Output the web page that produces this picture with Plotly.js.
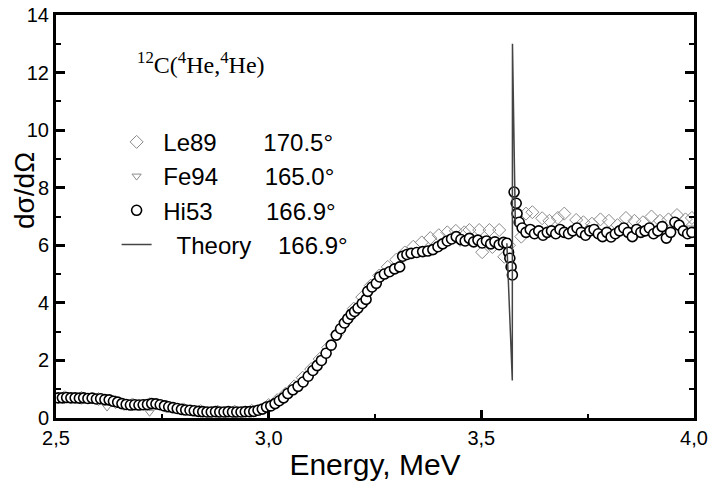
<!DOCTYPE html>
<html>
<head>
<meta charset="utf-8">
<script src="https://cdn.plot.ly/plotly-3.0.1.min.js"></script>
<style>html,body{margin:0;padding:0;background:#fff;}#chart{width:711px;height:489px;}</style>
</head>
<body>
<div id="chart"></div>
<script>
// Hi53 (open circles)
const hi53E = [2.505,2.515,2.525,2.535,2.545,2.555,2.565,2.575,2.585,2.595,2.605,2.615,2.625,2.635,2.645,2.655,2.665,2.675,2.685,2.695,2.705,2.715,2.725,2.735,2.745,2.755,2.765,2.775,2.785,2.795,2.805,2.815,2.825,2.835,2.845,2.855,2.865,2.875,2.885,2.895,2.905,2.915,2.925,2.935,2.945,2.955,2.965,2.975,2.985,2.995,
  3.005,3.015,3.025,3.035,3.045,3.057,3.069,3.081,3.093,3.104,3.114,3.124,3.135,3.147,3.159,3.169,3.178,3.186,3.194,3.202,3.210,3.220,3.229,3.233,3.243,3.253,3.261,3.272,3.284,3.296,3.308,3.315,3.325,3.335,3.348,3.362,3.374,3.386,3.398,3.409,3.420,3.430,3.441,3.452,3.462,3.472,3.482,3.492,3.502,3.512,3.522,3.532,3.542,3.552,3.560,3.564,3.567,3.570,3.573,
  3.577,3.582,3.584,3.589,3.596,3.605,3.615,3.625,3.635,3.645,3.655,3.665,3.675,3.685,3.695,3.705,3.715,3.725,3.735,3.745,3.755,3.765,3.775,3.785,3.795,3.805,3.815,3.825,3.835,3.845,3.855,3.865,3.875,3.885,3.895,3.905,3.915,3.925,3.935,3.945,3.955,3.965,3.975,3.985,3.995];
const hi53V = [0.70,0.70,0.71,0.70,0.70,0.69,0.70,0.68,0.69,0.66,0.67,0.64,0.63,0.58,0.55,0.50,0.47,0.45,0.46,0.45,0.46,0.47,0.50,0.49,0.46,0.42,0.39,0.36,0.33,0.30,0.28,0.27,0.25,0.23,0.22,0.21,0.21,0.22,0.21,0.21,0.22,0.21,0.21,0.21,0.22,0.22,0.23,0.27,0.31,0.38,
  0.42,0.50,0.60,0.70,0.85,0.98,1.10,1.25,1.45,1.65,1.82,2.00,2.25,2.53,2.88,3.10,3.30,3.45,3.60,3.70,3.82,3.98,4.12,4.40,4.55,4.68,4.90,5.00,5.08,5.18,5.25,5.62,5.68,5.72,5.75,5.78,5.80,5.85,5.95,6.05,6.15,6.22,6.30,6.20,6.15,6.24,6.12,6.18,6.08,6.15,6.05,6.12,6.02,6.10,6.07,5.76,5.55,5.25,4.97,
  7.85,7.46,7.10,6.80,6.60,6.45,6.55,6.40,6.50,6.35,6.45,6.50,6.40,6.55,6.45,6.40,6.50,6.60,6.45,6.35,6.50,6.55,6.40,6.30,6.45,6.29,6.40,6.50,6.60,6.45,6.30,6.55,6.45,6.50,6.60,6.40,6.50,6.65,6.25,6.45,6.80,6.70,6.50,6.40,6.45];

// Le89 (open diamonds)
const le89E = [2.52,2.56,2.60,2.64,2.68,2.72,2.76,2.80,2.84,2.88,2.92,2.96,3.00,3.02,3.04,3.06,3.08,3.10,3.12,3.14,3.16,3.18,3.20,3.22,3.24,3.26,3.28,3.30,3.32,3.34,3.36,3.38,3.40,3.42,3.44,3.46,3.472,3.495,3.502,3.519,3.526,3.542,3.554,3.565,3.594,3.605,3.62,3.643,3.66,3.68,3.695,3.723,3.74,3.76,3.78,3.80,3.82,3.84,3.86,3.88,3.90,3.92,3.94,3.96,3.98,3.995];
const le89V = [0.72,0.70,0.66,0.55,0.47,0.48,0.40,0.30,0.24,0.22,0.22,0.25,0.45,0.62,0.85,1.10,1.40,1.70,2.05,2.45,2.90,3.35,3.80,4.20,4.60,4.95,5.25,5.50,5.75,5.95,6.10,6.25,6.35,6.45,6.50,6.45,6.53,6.53,5.76,6.53,5.94,6.53,5.60,6.00,6.30,7.10,7.15,6.94,6.85,6.95,7.10,6.88,6.80,6.75,6.90,6.85,6.70,6.95,6.85,6.80,7.00,6.85,6.90,7.05,6.90,6.95];

// Fe94 (open down-triangles)
const fe94E = [2.62,2.66,2.72,2.78,2.82,2.86,2.90,2.94,2.98,3.02,3.40,3.45,3.50,3.65,3.75,3.85,3.95,3.99];
const fe94V = [0.38,0.40,0.20,0.30,0.20,0.15,0.13,0.15,0.22,0.50,6.00,6.10,6.10,6.50,6.45,6.50,6.55,6.60];

// Theory (line, resonance spike)
const theoE = [3.560,3.5728,3.5732,3.580];
const theoV = [6.07,1.30,13.00,6.70];

const legendNames = {
  le89: '\u00A0Le89\u00A0\u00A0\u00A0\u00A0\u00A0\u00A0\u00A0170.5\u00B0',
  fe94: '\u00A0Fe94\u00A0\u00A0\u00A0\u00A0\u00A0\u00A0\u00A0165.0\u00B0',
  hi53: '\u00A0Hi53\u00A0\u00A0\u00A0\u00A0\u00A0\u00A0\u00A0\u00A0166.9\u00B0',
  theo: '\u00A0\u00A0\u00A0Theory\u00A0\u00A0\u00A0\u00A0166.9\u00B0'
};

const traces = [
  {x: fe94E, y: fe94V, type: 'scatter', mode: 'markers', name: legendNames.fe94, legendgroup: 'b', legendrank: 2,
   marker: {symbol: 'triangle-down-open', size: 8, color: '#8a8a8a', line: {width: 1, color: '#8a8a8a'}}},
  {x: le89E, y: le89V, type: 'scatter', mode: 'markers', name: legendNames.le89, legendgroup: 'a', legendrank: 1,
   marker: {symbol: 'diamond-open', size: 10, color: '#8a8a8a', line: {width: 1, color: '#8a8a8a'}}},
  {x: hi53E, y: hi53V, type: 'scatter', mode: 'markers', name: legendNames.hi53, legendgroup: 'c', legendrank: 3,
   marker: {symbol: 'circle', size: 10, color: '#ffffff', line: {width: 1.6, color: '#000000'}}},
  {x: theoE, y: theoV, type: 'scatter', mode: 'lines', name: legendNames.theo, legendgroup: 'd', legendrank: 4,
   line: {color: '#444444', width: 1.5}}
];

const layout = {
  width: 711, height: 489,
  margin: {l: 56, r: 17, t: 15, b: 71},
  paper_bgcolor: '#ffffff', plot_bgcolor: '#ffffff',
  separators: ',.',
  font: {family: 'Liberation Sans, Arial, sans-serif', color: '#000000'},
  showlegend: true,
  legend: {x: 0.095, y: 0.74, xanchor: 'left', yanchor: 'top', bgcolor: 'rgba(0,0,0,0)', borderwidth: 0,
           font: {size: 24, color: '#000000', family: 'Liberation Sans, Arial, sans-serif'}, tracegroupgap: 6, traceorder: 'normal'},
  xaxis: {
    range: [2.5, 4.0], tick0: 2.5, dtick: 0.5, tickformat: '.1f',
    ticks: 'inside', ticklen: 8, tickwidth: 3, tickcolor: '#000',
    showline: true, linewidth: 3, linecolor: '#000', mirror: true,
    showgrid: false, zeroline: false,
    minor: {dtick: 0.25, ticks: 'inside', ticklen: 4, tickwidth: 2, tickcolor: '#000', showgrid: false},
    tickfont: {size: 20, color: '#000'},
    title: {text: 'Energy, MeV', font: {size: 30, color: '#000'}, standoff: 6}
  },
  yaxis: {
    range: [0, 14], tick0: 0, dtick: 2,
    ticks: 'inside', ticklen: 9, tickwidth: 3, tickcolor: '#000',
    showline: true, linewidth: 3, linecolor: '#000', mirror: 'ticks',
    showgrid: false, zeroline: false,
    minor: {dtick: 1, ticks: 'inside', ticklen: 5, tickwidth: 2, tickcolor: '#000', showgrid: false},
    tickfont: {size: 20, color: '#000'}
  },
  annotations: [
    {text: '<sup>12</sup>C(<sup>4</sup>He,<sup>4</sup>He)', xref: 'paper', yref: 'paper', x: 0.124, y: 0.881,
     xanchor: 'left', yanchor: 'middle', showarrow: false,
     font: {family: 'Liberation Serif, Times New Roman, serif', size: 24, color: '#000'}},
    {text: 'dσ/dΩ', xref: 'paper', yref: 'paper', x: -0.049, y: 0.565, textangle: -90,
     xanchor: 'center', yanchor: 'middle', showarrow: false,
     font: {size: 28, color: '#000'}}
  ]
};

Plotly.newPlot('chart', traces, layout, {staticPlot: true, displayModeBar: false});
</script>
</body>
</html>
